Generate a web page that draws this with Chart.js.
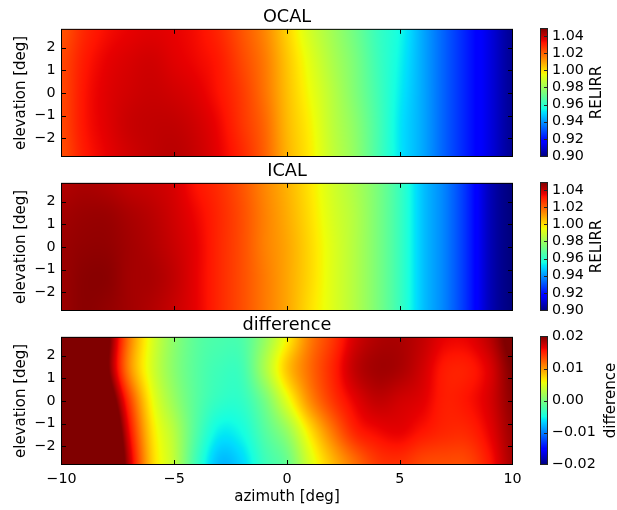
<!DOCTYPE html>
<html>
<head>
<meta charset="utf-8">
<script src="https://cdn.jsdelivr.net/npm/chart.js@4.4.1/dist/chart.umd.min.js"></script>
<style>
  html, body { margin: 0; padding: 0; background: #fff; }
  #wrap { position: relative; width: 617px; height: 510px; overflow: hidden; }
  #wrap canvas { position: absolute; }
</style>
</head>
<body>
<div id="wrap">
  <canvas id="ocal" width="528" height="160" style="left:0;top:0"></canvas>
  <canvas id="ocalBar" width="87" height="160" style="left:530px;top:0"></canvas>
  <canvas id="ical" width="528" height="160" style="left:0;top:154px"></canvas>
  <canvas id="icalBar" width="87" height="160" style="left:530px;top:154px"></canvas>
  <canvas id="diff" width="528" height="202" style="left:0;top:308px"></canvas>
  <canvas id="diffBar" width="87" height="202" style="left:530px;top:308px"></canvas>
</div>
<script>
// grid: one row per elevation, one column per azimuth
const azimuth = [-10, -9, -8, -7, -6, -5, -4, -3, -2, -1, 0, 1, 2, 3, 4, 5, 6, 7, 8, 9, 10];
const elevation = [2.8, 1.4, 0, -1.4, -2.8];

const ocal = [
    [1.022, 1.029, 1.033, 1.035, 1.036, 1.035, 1.033, 1.029, 1.022, 1.014, 1.002, 0.990, 0.981, 0.972, 0.962, 0.955, 0.943, 0.932, 0.922, 0.912, 0.902],
    [1.024, 1.031, 1.035, 1.037, 1.038, 1.036, 1.034, 1.031, 1.024, 1.016, 1.004, 0.993, 0.983, 0.974, 0.963, 0.954, 0.943, 0.932, 0.922, 0.912, 0.902],
    [1.024, 1.032, 1.036, 1.038, 1.039, 1.038, 1.036, 1.032, 1.026, 1.017, 1.005, 0.995, 0.985, 0.975, 0.964, 0.953, 0.943, 0.932, 0.922, 0.912, 0.902],
    [1.024, 1.032, 1.036, 1.039, 1.040, 1.040, 1.038, 1.034, 1.027, 1.019, 1.006, 0.997, 0.986, 0.977, 0.965, 0.952, 0.943, 0.932, 0.922, 0.912, 0.902],
    [1.023, 1.031, 1.035, 1.038, 1.040, 1.041, 1.039, 1.035, 1.029, 1.020, 1.007, 0.998, 0.987, 0.978, 0.965, 0.952, 0.943, 0.932, 0.922, 0.912, 0.902]
];

const ical = [
    [1.042, 1.043, 1.042, 1.040, 1.039, 1.037, 1.032, 1.028, 1.022, 1.014, 1.007, 0.999, 0.990, 0.983, 0.974, 0.962, 0.947, 0.937, 0.924, 0.907, 0.899],
    [1.044, 1.045, 1.045, 1.043, 1.041, 1.038, 1.034, 1.029, 1.023, 1.015, 1.008, 1.000, 0.991, 0.984, 0.974, 0.962, 0.947, 0.937, 0.924, 0.907, 0.899],
    [1.045, 1.046, 1.046, 1.044, 1.042, 1.039, 1.035, 1.029, 1.023, 1.015, 1.009, 1.001, 0.992, 0.984, 0.974, 0.962, 0.947, 0.937, 0.924, 0.907, 0.899],
    [1.045, 1.047, 1.047, 1.044, 1.043, 1.040, 1.035, 1.029, 1.023, 1.016, 1.009, 1.001, 0.992, 0.984, 0.974, 0.962, 0.947, 0.937, 0.924, 0.907, 0.899],
    [1.045, 1.047, 1.046, 1.044, 1.042, 1.039, 1.035, 1.029, 1.023, 1.016, 1.009, 1.000, 0.992, 0.984, 0.974, 0.962, 0.947, 0.937, 0.924, 0.907, 0.899]
];

const difference = [
    [0.030, 0.030, 0.0215, 0.0113, 0.0048, 0.0008, -0.0016, -0.0024, -0.0022, 0.0012, 0.0060, 0.0110, 0.0140, 0.0170, 0.0183, 0.0185, 0.0177, 0.0164, 0.0164, 0.0180, 0.0210],
    [0.030, 0.030, 0.0210, 0.0107, 0.0045, 0.0006, -0.0018, -0.0030, -0.0028, 0.0022, 0.0080, 0.0118, 0.0148, 0.0177, 0.0188, 0.0185, 0.0172, 0.0153, 0.0152, 0.0168, 0.0200],
    [0.030, 0.030, 0.0240, 0.0140, 0.0058, 0.0014, -0.0018, -0.0036, -0.0036, -0.0004, 0.0050, 0.0104, 0.0140, 0.0164, 0.0177, 0.0172, 0.0166, 0.0152, 0.0156, 0.0170, 0.0195],
    [0.030, 0.030, 0.0273, 0.0162, 0.0071, 0.0028, -0.0022, -0.0056, -0.0050, -0.0020, 0.0012, 0.0066, 0.0112, 0.0148, 0.0160, 0.0164, 0.0155, 0.0148, 0.0148, 0.0164, 0.0190],
    [0.030, 0.030, 0.0290, 0.0178, 0.0078, 0.0032, -0.0032, -0.0076, -0.0066, -0.0032, -0.0010, 0.0044, 0.0084, 0.0116, 0.0140, 0.0144, 0.0134, 0.0132, 0.0134, 0.0155, 0.0186]
];

const azimuthTicks = [-10, -5, 0, 5, 10];
const elevationTicks = [-2, -1, 0, 1, 2];
const relirrTicks = [0.90, 0.92, 0.94, 0.96, 0.98, 1.00, 1.02, 1.04];
const differenceTicks = [-0.02, -0.01, 0.00, 0.01, 0.02];
const relirrRange = [0.8995, 1.0485];
const differenceRange = [-0.02, 0.02];

Chart.defaults.font.family = "'DejaVu Sans', sans-serif";
Chart.defaults.color = '#000';

// matplotlib "jet" segment data
const JET = {
    r: [[0, 0], [0.35, 0], [0.66, 1], [0.89, 1], [1, 0.5]],
    g: [[0, 0], [0.125, 0], [0.375, 1], [0.64, 1], [0.91, 0], [1, 0]],
    b: [[0, 0.5], [0.11, 1], [0.34, 1], [0.65, 0], [1, 0]]
};

function jetChannel(pts, t) {
    for (let i = 1; i < pts.length; i++) {
        if (t <= pts[i][0]) {
            const [x0, y0] = pts[i - 1], [x1, y1] = pts[i];
            return y0 + (y1 - y0) * (t - x0) / (x1 - x0);
        }
    }
    return pts[pts.length - 1][1];
}

function jet(t) {
    t = Math.max(0, Math.min(1, t));
    return [JET.r, JET.g, JET.b].map(p => Math.round(jetChannel(p, t) * 255));
}

function fmt(v) {
    return String(v).replace('-', '\u2212');
}

function fracIndex(coords, v) {
    const n = coords.length;
    const lo = Math.min(coords[0], coords[n - 1]), hi = Math.max(coords[0], coords[n - 1]);
    v = Math.max(lo, Math.min(hi, v));
    for (let i = 0; i < n - 1; i++) {
        const a = coords[i], b = coords[i + 1];
        if ((v - a) * (v - b) <= 0) return i + (v - a) / (b - a);
    }
    return n - 1;
}

function cubic(p0, p1, p2, p3, t) {
    return p1 + 0.5 * t * (p2 - p0 + t * (2 * p0 - 5 * p1 + 4 * p2 - p3 + t * (3 * (p1 - p2) + p3 - p0)));
}

// bicubic lookup in the grid, used only to shade the image the way imshow smooths it
function sample(grid, az, el) {
    const nx = azimuth.length, ny = elevation.length;
    const fx = fracIndex(azimuth, az), fy = fracIndex(elevation, el);
    const i1 = Math.min(Math.floor(fx), nx - 2), j1 = Math.min(Math.floor(fy), ny - 2);
    const tx = fx - i1, ty = fy - j1;
    const cx = [Math.max(i1 - 1, 0), i1, i1 + 1, Math.min(i1 + 2, nx - 1)];
    const cy = [Math.max(j1 - 1, 0), j1, j1 + 1, Math.min(j1 + 2, ny - 1)];
    const col = cy.map(j => {
        const r = grid[j];
        return cubic(r[cx[0]], r[cx[1]], r[cx[2]], r[cx[3]], tx);
    });
    return cubic(col[0], col[1], col[2], col[3], ty);
}

function line(ctx, x0, y0, x1, y1) {
    ctx.beginPath();
    ctx.moveTo(x0, y0);
    ctx.lineTo(x1, y1);
    ctx.stroke();
}

function heatmapPlugin(grid, range) {
    return {
        id: 'heatmap',
        beforeDatasetsDraw(chart) {
            const { ctx, chartArea: a, scales: { x, y } } = chart;
            const w = Math.ceil(a.right - a.left), h = Math.ceil(a.bottom - a.top);
            const off = document.createElement('canvas');
            off.width = w;
            off.height = h;
            const octx = off.getContext('2d');
            const img = octx.createImageData(w, h);
            for (let j = 0; j < h; j++) {
                const el = y.getValueForPixel(a.top + j + 0.5);
                for (let i = 0; i < w; i++) {
                    const az = x.getValueForPixel(a.left + i + 0.5);
                    const c = jet((sample(grid, az, el) - range[0]) / (range[1] - range[0]));
                    const k = (j * w + i) * 4;
                    img.data[k] = c[0];
                    img.data[k + 1] = c[1];
                    img.data[k + 2] = c[2];
                    img.data[k + 3] = 255;
                }
            }
            octx.putImageData(img, 0, 0);
            ctx.drawImage(off, a.left, a.top, a.right - a.left, a.bottom - a.top);
        },
        afterDraw(chart) {
            const { ctx, chartArea: a, scales: { x, y } } = chart;
            const TICK = 4.5;
            ctx.save();
            ctx.strokeStyle = '#000';
            ctx.lineWidth = 1;
            ctx.strokeRect(a.left, a.top, a.right - a.left, a.bottom - a.top);
            x.ticks.forEach(t => {
                const px = Math.round(x.getPixelForValue(t.value)) + 0.5;
                if (px <= a.left + 1 || px >= a.right - 1) return;
                line(ctx, px, a.top, px, a.top + TICK);
                line(ctx, px, a.bottom, px, a.bottom - TICK);
            });
            y.ticks.forEach(t => {
                const py = Math.round(y.getPixelForValue(t.value)) + 0.5;
                if (py <= a.top + 1 || py >= a.bottom - 1) return;
                line(ctx, a.left, py, a.left + TICK, py);
                line(ctx, a.right, py, a.right - TICK, py);
            });
            ctx.restore();
        }
    };
}

function colorbarPlugin(label, range, labelX) {
    return {
        id: 'colorbar',
        beforeDatasetsDraw(chart) {
            const { ctx, chartArea: a, scales: { y } } = chart;
            for (let py = Math.floor(a.top); py < Math.ceil(a.bottom); py++) {
                const v = y.getValueForPixel(py + 0.5);
                const c = jet((v - range[0]) / (range[1] - range[0]));
                ctx.fillStyle = `rgb(${c})`;
                ctx.fillRect(a.left, py, a.right - a.left, 1);
            }
        },
        afterDraw(chart) {
            const { ctx, chartArea: a, scales: { y } } = chart;
            ctx.save();
            ctx.strokeStyle = '#222';
            ctx.lineWidth = 1;
            ctx.strokeRect(a.left, a.top, a.right - a.left, a.bottom - a.top);
            y.ticks.forEach(t => {
                const py = Math.round(y.getPixelForValue(t.value)) + 0.5;
                if (py <= a.top + 1 || py >= a.bottom - 1) return;
                line(ctx, a.right, py, a.right - 3.5, py);
            });
            ctx.translate(labelX, (a.top + a.bottom) / 2);
            ctx.rotate(-Math.PI / 2);
            ctx.font = "15px 'DejaVu Sans'";
            ctx.fillStyle = '#000';
            ctx.textAlign = 'center';
            ctx.textBaseline = 'middle';
            ctx.fillText(label, 0, 0);
            ctx.restore();
        }
    };
}

function makePanel(id, title, grid, range, showX) {
    const canvas = document.getElementById(id);
    const bottomSpace = canvas.height - 156.5;
    return new Chart(canvas, {
        type: 'scatter',
        data: { datasets: [] },
        options: {
            responsive: false,
            animation: false,
            events: [],
            layout: { padding: { left: 0, right: canvas.width - 512.5, top: 0, bottom: 0 } },
            plugins: {
                legend: { display: false },
                tooltip: { enabled: false },
                title: {
                    display: true,
                    text: title,
                    fullSize: false,
                    color: '#000',
                    font: { size: 17.7, weight: 'normal' },
                    padding: { top: 6.5, bottom: 1.6 }
                }
            },
            scales: {
                x: {
                    min: -10,
                    max: 10,
                    afterBuildTicks: s => { s.ticks = azimuthTicks.map(v => ({ value: v })); },
                    afterFit: s => { s.height = bottomSpace; s.paddingLeft = 0; s.paddingRight = 0; },
                    grid: { display: false, drawTicks: false },
                    border: { display: false },
                    ticks: { display: showX, padding: 6, font: { size: 14.3 }, maxRotation: 0, autoSkip: false, callback: v => fmt(v) },
                    title: { display: showX, text: 'azimuth [deg]', font: { size: 15 }, padding: { top: 0, bottom: 3.5 } }
                },
                y: {
                    min: -2.8,
                    max: 2.8,
                    afterBuildTicks: s => { s.ticks = elevationTicks.map(v => ({ value: v })); },
                    afterFit: s => { s.width = 61.5; s.paddingTop = 0; s.paddingBottom = 0; },
                    grid: { display: false, drawTicks: false },
                    border: { display: false },
                    ticks: { padding: 6, font: { size: 14.3 }, autoSkip: false, callback: v => fmt(v) },
                    title: { display: true, text: 'elevation [deg]', font: { size: 15 }, padding: { top: 12, bottom: 0 } }
                }
            }
        },
        plugins: [heatmapPlugin(grid, range)]
    });
}

function makeColorbar(id, label, ticks, range, labelX) {
    const canvas = document.getElementById(id);
    return new Chart(canvas, {
        type: 'scatter',
        data: { datasets: [] },
        options: {
            responsive: false,
            animation: false,
            events: [],
            layout: { padding: { left: 10.5, right: 0, top: 28.5, bottom: canvas.height - 156.5 } },
            plugins: { legend: { display: false }, tooltip: { enabled: false } },
            scales: {
                x: { display: false },
                y: {
                    position: 'right',
                    min: range[0],
                    max: range[1],
                    afterBuildTicks: s => { s.ticks = ticks.map(v => ({ value: v })); },
                    afterFit: s => { s.width = canvas.width - 10.5 - 7; s.paddingTop = 0; s.paddingBottom = 0; },
                    grid: { display: false, drawTicks: false },
                    border: { display: false },
                    ticks: { padding: 4.5, font: { size: 14.3 }, autoSkip: false, callback: v => fmt(v.toFixed(2)) }
                }
            }
        },
        plugins: [colorbarPlugin(label, range, labelX)]
    });
}

makePanel('ocal', 'OCAL', ocal, relirrRange, false);
makeColorbar('ocalBar', 'RELIRR', relirrTicks, relirrRange, 67.2);
makePanel('ical', 'ICAL', ical, relirrRange, false);
makeColorbar('icalBar', 'RELIRR', relirrTicks, relirrRange, 67.2);
makePanel('diff', 'difference', difference, differenceRange, true);
makeColorbar('diffBar', 'difference', differenceTicks, differenceRange, 81.5);
</script>
</body>
</html>
